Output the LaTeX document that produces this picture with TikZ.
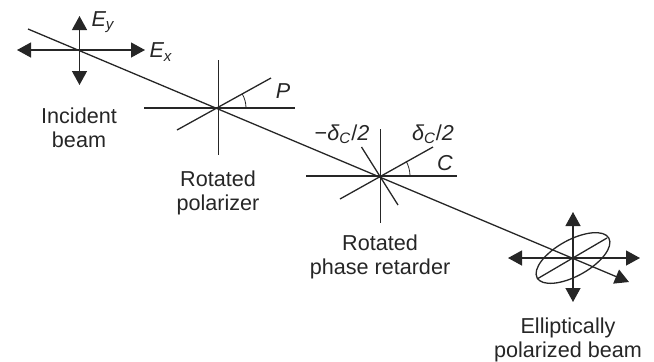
\documentclass[tikz,border=0pt]{standalone}
\usepackage{fontspec}
\setmainfont{Liberation Sans}
\usetikzlibrary{arrows.meta,shapes.geometric}

\begin{document}
\begin{tikzpicture}[
    x=0.5pt, y=-0.5pt,
    every node/.style={font=\fontsize{10.8}{12}\selectfont, align=center, inner sep=0pt, text=black!85},
    symb/.style={font=\fontsize{10.8}{12}\selectfont\itshape},
    axis/.style={line width=0.65pt, draw=black!85},
    field/.style={axis, {Triangle[length=7pt,width=7.5pt]}-{Triangle[length=7pt,width=7.5pt]}},
    beam/.style={axis, -{Triangle[length=7pt,width=7.5pt]}},
    angmark/.style={line width=0.4pt, draw=black!85}
]
\useasboundingbox (0,0) rectangle (654,361);

% centres on the beam
\coordinate (inc) at (79.5,50);
\coordinate (pol) at (218,108);
\coordinate (ret) at (380,176);
\coordinate (out) at (573,258);

% beam ends
\coordinate (beamstart) at (28,29);
\coordinate (beamend) at (629,282);
\draw[beam] (beamstart) -- (beamend);

% incident field
\coordinate (incw) at (17,50);
\coordinate (ince) at (145,50);
\coordinate (incn) at (79.5,16);
\coordinate (incs) at (79.5,85);
\draw[field] (incw) -- (ince);
\draw[field] (incn) -- (incs);
\node[symb] (ey) at (103,22) {E\textsubscript{y}};
\node[symb] (ex) at (161,52) {E\textsubscript{x}};
\node (inclabel) at (79,128) {Incident\\beam};

% polarizer
\coordinate (polw) at (144,108);
\coordinate (pole) at (295,108);
\coordinate (poln) at (218.5,60);
\coordinate (pols) at (218.5,155);
\coordinate (polp) at (271,78);
\coordinate (polq) at (177,130);
\draw[axis] (polw) -- (pole);
\draw[axis] (poln) -- (pols);
\draw[axis] (polq) -- (polp);
\draw[angmark] ([shift={(0:14pt)}]pol) arc[start angle=0, end angle=30, radius=14pt];
\node[symb] (plabel) at (283,91) {P};
\node (pollabel) at (218,193) {Rotated\\polarizer};

% retarder
\coordinate (retw) at (306,176);
\coordinate (rete) at (457,176);
\coordinate (retn) at (380.5,129);
\coordinate (rets) at (380.5,223);
\coordinate (retc) at (433,147);
\coordinate (retd) at (340,199);
\coordinate (retu) at (361.5,147);
\coordinate (retv) at (398,205);
\draw[axis] (retw) -- (rete);
\draw[axis] (retn) -- (rets);
\draw[axis] (retd) -- (retc);
\draw[axis] (retu) -- (retv);
\draw[angmark] ([shift={(0:15pt)}]ret) arc[start angle=0, end angle=30, radius=15pt];
\node[symb] (clabel) at (445,163) {C};
\node[symb] (dminus) at (342,134) {{\upshape −}δ\textsubscript{C}{\upshape /}2};
\node[symb] (dplus) at (433,134) {δ\textsubscript{C}{\upshape /}2};
\node (retlabel) at (380,257) {Rotated\\phase retarder};

% output beam
\coordinate (outw) at (508,258);
\coordinate (oute) at (640,258);
\coordinate (outn) at (573,212);
\coordinate (outs) at (573,302);
\coordinate (outp) at (607,238);
\coordinate (outq) at (537,279);
\draw[field] (outw) -- (oute);
\draw[field] (outn) -- (outs);
\draw[axis] (outq) -- (outp);
\node[ellipse, draw=black!85, line width=0.65pt, rotate=29, minimum width=41pt, minimum height=18pt] (polell) at (out) {};
\node (outlabel) at (568,340) {Elliptically\\polarized beam};

\end{tikzpicture}
\end{document}
